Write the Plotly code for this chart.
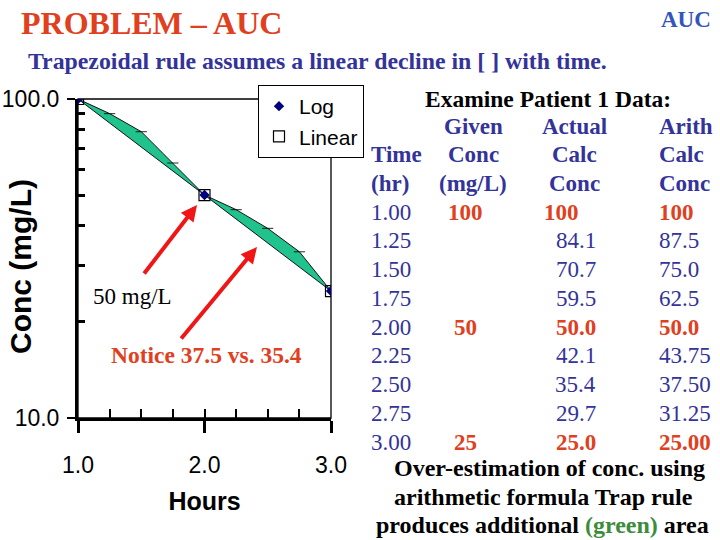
import plotly.graph_objects as go

# ---------------- data ----------------
times = [1.00, 1.25, 1.50, 1.75, 2.00, 2.25, 2.50, 2.75, 3.00]
given_conc = [100, None, None, None, 50, None, None, None, 25]
actual_conc = [100, 84.1, 70.7, 59.5, 50.0, 42.1, 35.4, 29.7, 25.0]
# arithmetic (linear) line as it is drawn in the chart
linear_drawn_conc = [100, 90, 79, 63, 50, 45, 39.3, 33.2, 25]

time_text = ["1.00", "1.25", "1.50", "1.75", "2.00", "2.25", "2.50", "2.75", "3.00"]
given_text = ["100", "", "", "", "50", "", "", "", "25"]
actual_text = ["100", "84.1", "70.7", "59.5", "50.0", "42.1", "35.4", "29.7", "25.0"]
arith_text = ["100", "87.5", "75.0", "62.5", "50.0", "43.75", "37.50", "31.25", "25.00"]

header_rows = [["", "Given", "Actual", "Arith"],
               ["Time", "Conc", "Calc", "Calc"],
               ["(hr)", "(mg/L)", "Conc", "Conc"]]

x_tick_vals = [1, 2, 3]
x_tick_text = ["1.0", "2.0", "3.0"]
y_tick_vals = [10, 100]
y_tick_text = ["10.0", "100.0"]
y_minor_vals = [20, 30, 40, 50, 60, 70, 80, 90]

legend_names = ["Log", "Linear"]

# ---------------- styles ----------------
W, H = 720, 540
SERIF = "Liberation Serif, Times New Roman, serif"
SANS = "Liberation Sans, Arial, sans-serif"
BLUE = "#333399"
RED = "#e0401e"
GREEN_FILL = "#21c38d"


def px(x):
    return x / W


def py(y):
    return 1 - y / H


given_t = [t for t, g in zip(times, given_conc) if g is not None]
given_v = [g for g in given_conc if g is not None]

fig = go.Figure()

# log (actual) line
fig.add_trace(go.Scatter(x=times, y=actual_conc, mode="lines",
                         line=dict(color="#111122", width=1),
                         showlegend=False, hoverinfo="skip"))
# linear (arithmetic) line with fill between
fig.add_trace(go.Scatter(x=times, y=linear_drawn_conc, mode="lines+markers",
                         fill="tonexty", fillcolor=GREEN_FILL,
                         line=dict(color="#111111", width=1),
                         marker=dict(symbol="line-ew",
                                     size=[0 if g is not None else 8 for g in given_conc],
                                     line=dict(width=1.2, color="black")),
                         showlegend=False, hoverinfo="skip"))
# given points markers (on overlay axes)
fig.add_trace(go.Scatter(x=given_t, y=given_v, mode="markers", name=legend_names[0],
                         marker=dict(symbol="diamond", size=8, color="#000080"),
                         xaxis="x2", yaxis="y2"))
fig.add_trace(go.Scatter(x=given_t, y=given_v, mode="markers", name=legend_names[1],
                         marker=dict(symbol="square-open", size=11, color="black",
                                     line=dict(width=1.2, color="black")),
                         xaxis="x2", yaxis="y2"))

xdom = [px(78), px(331)]
ydom = [py(418), py(99)]

fig.update_layout(
    width=W, height=H, autosize=False,
    margin=dict(l=0, r=0, t=0, b=0, pad=0, autoexpand=False),
    paper_bgcolor="white", plot_bgcolor="white",
    xaxis=dict(domain=xdom, range=[1, 3], tickvals=x_tick_vals, ticktext=x_tick_text,
               ticks="outside", ticklen=12, tickwidth=2.5, tickcolor="black",
               showline=True, linewidth=3, linecolor="black", automargin=False,
               showgrid=False, zeroline=False, ticklabelstandoff=12,
               tickfont=dict(family=SANS, size=23, color="black"),
               title=dict(text="<b>Hours</b>", standoff=16,
                          font=dict(family=SANS, size=25, color="black"))),
    yaxis=dict(domain=ydom, type="log", range=[1, 2], tickvals=y_tick_vals,
               ticktext=y_tick_text, ticks="outside", ticklen=8, tickwidth=2,
               tickcolor="black", showline=True, linewidth=3, linecolor="black",
               showgrid=False, zeroline=False, ticklabelstandoff=3, automargin=False,
               tickfont=dict(family=SANS, size=23, color="black")),
    xaxis2=dict(overlaying="x", anchor="y", side="bottom", range=[1, 3],
                tickvals=times, ticks="inside", ticklen=9, tickwidth=2,
                tickcolor="black", showticklabels=False, showline=False,
                showgrid=False, zeroline=False, automargin=False),
    yaxis2=dict(overlaying="y", anchor="x", side="left", type="log", range=[1, 2],
                tickvals=y_minor_vals, ticks="inside", ticklen=7, tickwidth=2.5,
                tickcolor="black", showticklabels=False, showline=False,
                showgrid=False, zeroline=False, automargin=False),
    legend=dict(x=px(258), y=py(85), xanchor="left", yanchor="top",
                bgcolor="white", bordercolor="black", borderwidth=1,
                traceorder="normal", tracegroupgap=0,
                font=dict(family=SANS, size=21, color="black"),
                itemsizing="trace"),
    showlegend=True,
)

# thin top/right frame
fig.add_shape(type="rect", xref="x domain", yref="y domain", x0=0, x1=1, y0=0, y1=1,
              line=dict(color="black", width=1.3), layer="below")


def txt(x, y, s, size, color, xanchor="center", family=SERIF, angle=0):
    fig.add_annotation(x=px(x), y=py(y), xref="paper", yref="paper", text=s,
                       showarrow=False, xanchor=xanchor, yanchor="middle",
                       textangle=angle,
                       font=dict(family=family, size=size, color=color))


# y axis title
txt(20, 267, "<b>Conc (mg/L)</b>", 30, "black", family=SANS, angle=-90)

# arrows
fig.add_annotation(x=px(197), y=py(205), xref="paper", yref="paper", text="",
                   showarrow=True, ax=143 - 197, ay=275 - 205, arrowhead=2,
                   arrowsize=0.8, arrowwidth=4, arrowcolor="#f01616")
fig.add_annotation(x=px(257), y=py(247), xref="paper", yref="paper", text="",
                   showarrow=True, ax=180 - 257, ay=340 - 247, arrowhead=2,
                   arrowsize=0.8, arrowwidth=4, arrowcolor="#f01616")

txt(132, 296, "50 mg/L", 23, "black")
txt(207, 355, "<b>Notice 37.5 vs. 35.4</b>", 23.5, RED)

# titles
txt(19, 23, "<b>PROBLEM – AUC</b>", 32, RED, xanchor="left")
txt(713, 19, "<b>AUC</b>", 23, "#3355bb", xanchor="right")
txt(26, 61, "<b>Trapezoidal rule assumes a linear decline in [ ] with time.</b>", 23.8,
    BLUE, xanchor="left")

# table
txt(548, 99, "<b>Examine Patient 1 Data:</b>", 23.5, "black")
hdr_y = [127, 155, 183]
for r, row in enumerate(header_rows):
    t, g, a, ar = row
    if t:
        txt(369, hdr_y[r], f"<b>{t}</b>", 23, BLUE, xanchor="left")
    txt(473, hdr_y[r], f"<b>{g}</b>", 23, BLUE)
    txt(574, hdr_y[r], f"<b>{a}</b>", 23, BLUE)
    txt(657, hdr_y[r], f"<b>{ar}</b>", 23, BLUE, xanchor="left")

for i in range(len(times)):
    y = 212 + 28.75 * i
    hasg = given_conc[i] is not None
    txt(369, y, time_text[i], 23, BLUE, xanchor="left")
    if hasg:
        txt(465, y, f"<b>{given_text[i]}</b>", 23, RED)
    a = f"<b>{actual_text[i]}</b>" if hasg else actual_text[i]
    col = RED if hasg else BLUE
    if "." in actual_text[i]:
        txt(598, y, a, 23, col, xanchor="right")
    else:
        txt(542, y, a, 23, col, xanchor="left")
    ar = f"<b>{arith_text[i]}</b>" if hasg else arith_text[i]
    txt(657, y, ar, 23, col, xanchor="left")

txt(549, 468, "<b>Over-estimation of conc. using</b>", 24, "black")
txt(543, 497, "<b>arithmetic formula Trap rule</b>", 24, "black")
txt(542, 525, "<b>produces additional <span style='color:#3c8c3c'>(green)</span> area</b>",
    24, "black")

# remove the browser's default page margin so the figure fills the window
fig.write_html("out.html", config={"displayModeBar": False},
               post_script="document.body.style.margin='0px';")
